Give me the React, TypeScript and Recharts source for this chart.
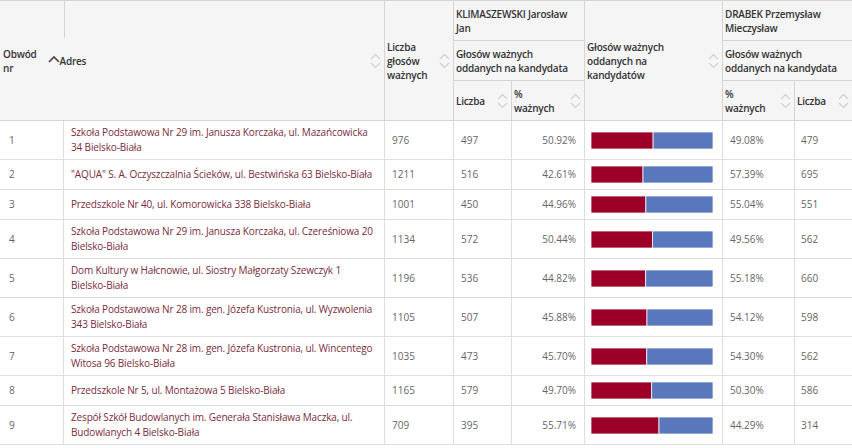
import React from "react";
import { BarChart, Bar, XAxis, YAxis } from "recharts";

const obwody = [1, 2, 3, 4, 5, 6, 7, 8, 9];
// line breaks as shown in the table cells
const adresy = [
  "Szkoła Podstawowa Nr 29 im. Janusza Korczaka, ul. Mazańcowicka\n34 Bielsko-Biała",
  "\"AQUA\" S. A. Oczyszczalnia Ścieków, ul. Bestwińska 63 Bielsko-Biała",
  "Przedszkole Nr 40, ul. Komorowicka 338 Bielsko-Biała",
  "Szkoła Podstawowa Nr 29 im. Janusza Korczaka, ul. Czereśniowa 20\nBielsko-Biała",
  "Dom Kultury w Hałcnowie, ul. Siostry Małgorzaty Szewczyk 1\nBielsko-Biała",
  "Szkoła Podstawowa Nr 28 im. gen. Józefa Kustronia, ul. Wyzwolenia\n343 Bielsko-Biała",
  "Szkoła Podstawowa Nr 28 im. gen. Józefa Kustronia, ul. Wincentego\nWitosa 96 Bielsko-Biała",
  "Przedszkole Nr 5, ul. Montażowa 5 Bielsko-Biała",
  "Zespół Szkół Budowlanych im. Generała Stanisława Maczka, ul.\nBudowlanych 4 Bielsko-Biała",
];
const liczbaWaznych = [976, 1211, 1001, 1134, 1196, 1105, 1035, 1165, 709];
const klimLiczba = [497, 516, 450, 572, 536, 507, 473, 579, 395];
const klimProc = [50.92, 42.61, 44.96, 50.44, 44.82, 45.88, 45.7, 49.7, 55.71];
const drabProc = [49.08, 57.39, 55.04, 49.56, 55.18, 54.12, 54.3, 50.3, 44.29];
const drabLiczba = [479, 695, 551, 562, 660, 598, 562, 586, 314];

const RED = "#9c0029";
const BLUE = "#5877bd";
const FONT = "'Open Sans', sans-serif";

const SortIcon = ({ active }: { active?: boolean }) =>
  active ? (
    <svg width={12} height={8} style={{ position: "absolute", right: 4, top: "50%", marginTop: -6 }}>
      <polyline points="1,7 6,2 11,7" fill="none" stroke="#444" strokeWidth={1.6} />
    </svg>
  ) : (
    <svg width={11} height={18} style={{ position: "absolute", right: 3, top: "50%", marginTop: -9 }}>
      <polyline points="1,7 5.5,2.5 10,7" fill="none" stroke="#cfcfcf" strokeWidth={1.1} />
      <polyline points="1,11 5.5,15.5 10,11" fill="none" stroke="#cfcfcf" strokeWidth={1.1} />
    </svg>
  );

const th: React.CSSProperties = {
  position: "relative",
  background: "#f5f5f5",
  border: "1px solid #d4d4d4",
  fontWeight: 600,
  color: "#333",
  textAlign: "left",
  verticalAlign: "middle",
  padding: "0 14px 0 2px",
  height: 39,
  lineHeight: "14px",
  letterSpacing: -0.2,
};

const thGroup: React.CSSProperties = { ...th, paddingRight: 2 };

const td: React.CSSProperties = {
  border: "1px solid #dedede",
  color: "#666",
  padding: "4px 7px",
  lineHeight: "15px",
  verticalAlign: "middle",
};

function VoteBar({ i }: { i: number }) {
  const data = [{ name: String(obwody[i]), k: klimProc[i], d: drabProc[i] }];
  return (
    <BarChart width={122} height={21} data={data} layout="vertical" margin={{ top: 0, right: 0, bottom: 0, left: 0 }}>
      <XAxis type="number" domain={[0, 100]} hide />
      <YAxis type="category" dataKey="name" hide />
      <Bar dataKey="k" stackId="a" fill={RED} stroke="rgba(255,255,255,0.75)" strokeWidth={1} barSize={17} isAnimationActive={false} />
      <Bar dataKey="d" stackId="a" fill={BLUE} stroke="rgba(255,255,255,0.75)" strokeWidth={1} barSize={17} isAnimationActive={false} />
    </BarChart>
  );
}

export default function App() {
  return (
    <div style={{ position: "absolute", left: 0, top: 0, width: 852, height: 448, overflow: "hidden", background: "#fff", fontFamily: FONT, fontSize: 10 }}>
      <table style={{ borderCollapse: "collapse", tableLayout: "fixed", width: 853, marginLeft: -1 }}>
        <colgroup>
          <col style={{ width: 64 }} />
          <col style={{ width: 321 }} />
          <col style={{ width: 69 }} />
          <col style={{ width: 58 }} />
          <col style={{ width: 73 }} />
          <col style={{ width: 138 }} />
          <col style={{ width: 72 }} />
          <col style={{ width: 58 }} />
        </colgroup>
        <thead>
          <tr>
            <th rowSpan={3} style={{ ...th, borderRight: "none", paddingLeft: 3 }}>
              Obwód<br />nr
              <SortIcon active />
            </th>
            <th rowSpan={3} style={{ ...th, borderLeft: "none", paddingLeft: 0 }}>
              <div style={{ position: "absolute", left: 0, top: 0, width: 1, height: 37, background: "#d4d4d4" }} />
              <span style={{ position: "relative", left: -4 }}>Adres</span>
              <SortIcon />
            </th>
            <th rowSpan={3} style={th}>
              Liczba<br />głosów<br />ważnych
              <SortIcon />
            </th>
            <th colSpan={2} style={thGroup}>KLIMASZEWSKI Jarosław<br />Jan</th>
            <th rowSpan={3} style={th}>
              Głosów ważnych<br />oddanych na<br />kandydatów
              <SortIcon />
            </th>
            <th colSpan={2} style={thGroup}>DRABEK Przemysław<br />Mieczysław</th>
          </tr>
          <tr>
            <th colSpan={2} style={thGroup}>Głosów ważnych<br />oddanych na kandydata</th>
            <th colSpan={2} style={thGroup}>Głosów ważnych<br />oddanych na kandydata</th>
          </tr>
          <tr>
            <th style={th}>
              Liczba
              <SortIcon />
            </th>
            <th style={th}>
              %<br />ważnych
              <SortIcon />
            </th>
            <th style={th}>
              %<br />ważnych
              <SortIcon />
            </th>
            <th style={th}>
              Liczba
              <SortIcon />
            </th>
          </tr>
        </thead>
        <tbody>
          {obwody.map((nr, i) => (
            <tr key={nr}>
              <td style={{ ...td, paddingLeft: 9 }}>{nr}</td>
              <td style={{ ...td, color: "#7a2c3d", paddingRight: 2, letterSpacing: -0.15, whiteSpace: "pre" }}>{adresy[i]}</td>
              <td style={td}>{liczbaWaznych[i]}</td>
              <td style={td}>{klimLiczba[i]}</td>
              <td style={{ ...td, textAlign: "right", paddingRight: 8 }}>{klimProc[i].toFixed(2)}%</td>
              <td style={{ ...td, padding: "4px 6px" }}>
                <VoteBar i={i} />
              </td>
              <td style={td}>{drabProc[i].toFixed(2)}%</td>
              <td style={{ ...td, paddingLeft: 6 }}>{drabLiczba[i]}</td>
            </tr>
          ))}
        </tbody>
      </table>
    </div>
  );
}
